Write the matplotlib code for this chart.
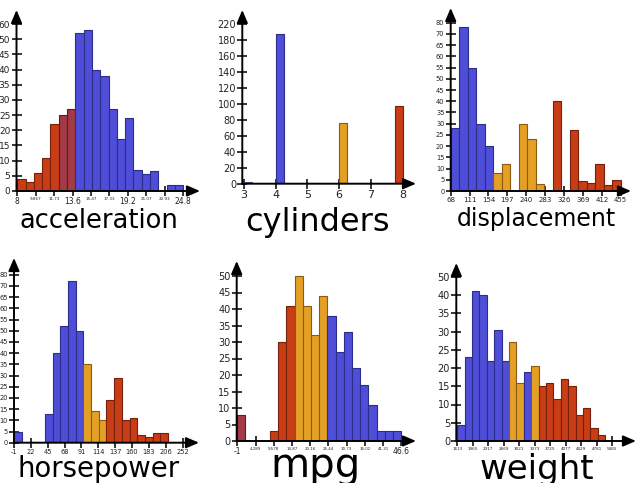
import matplotlib
matplotlib.use("Agg")
import matplotlib.pyplot as plt

W, H = 642, 483

# ---------------- data ----------------
acc_start, acc_bin = 8.0, 0.84
acc_counts = [4, 3, 6, 11, 22, 25, 27, 52, 53, 40, 38, 27, 17, 24, 7, 5.5, 6.5, 0, 2, 2]
acc_cls = "rrrrrmmbbbbbbbbbbbbb"
acc_ticks = [8, 9.867, 11.73, 13.6, 15.47, 17.33, 19.2, 21.07, 22.93, 24.8]
acc_tick_labels = ["8", "9.867", "11.73", "13.6", "15.47", "17.33", "19.2", "21.07", "22.93", "24.8"]
acc_yticks = [0, 5, 10, 15, 20, 25, 30, 35, 40, 45, 50, 55]
acc_ylabels = ["0", "5", "10", "15", "20", "25", "30", "35", "40", "45", "50", "60"]

cyl_start, cyl_bin = 3.0, 0.25
cyl_values = [3, 4, 5, 6, 8]
cyl_counts = [2, 188, 1.5, 76, 98]
cyl_cls = ["l", "b", "y", "o", "r"]
cyl_ticks = [3, 4, 5, 6, 7, 8]
cyl_tick_labels = ["3", "4", "5", "6", "7", "8"]
cyl_yticks = [0, 20, 40, 60, 80, 100, 120, 140, 160, 180, 200]
cyl_ylabels = ["0", "20", "40", "60", "80", "100", "120", "140", "160", "180", "220"]

disp_start, disp_bin = 68.0, 19.35
disp_counts = [28, 73, 55, 30, 20, 8, 12, 0, 30, 23, 3, 0, 40, 0, 27, 4.5, 3.5, 12, 2.5, 5]
disp_cls = "bbbbboooooorrrrrrrrr"
disp_ticks = [68, 111, 154, 197, 240, 283, 326, 369, 412, 455]
disp_tick_labels = ["68", "111", "154", "197", "240", "283", "326", "369", "412", "455"]
disp_yticks = [0, 5, 10, 15, 20, 25, 30, 35, 40, 45, 50, 55, 60, 65, 70, 75]
disp_ylabels = ["0", "5", "10", "15", "20", "25", "30", "35", "40", "45", "50", "55", "60", "65", "70", "80"]

hp_start, hp_bin = -1.0, 10.5
hp_counts = [5, 0, 0, 0, 13, 40, 52, 72, 50, 35, 14, 10, 19, 29, 10, 11, 3.5, 2.5, 4.5, 4.5]
hp_cls = "bbbbbbbbbooorrrrrrrr"
hp_ticks = [-1, 22, 45, 68, 91, 114, 137, 160, 183, 206, 229]
hp_tick_labels = ["-1", "22", "45", "68", "91", "114", "137", "160", "183", "206", "252"]
hp_yticks = [0, 5, 10, 15, 20, 25, 30, 35, 40, 45, 50, 55, 60, 65, 70, 75]
hp_ylabels = ["0", "5", "10", "15", "20", "25", "30", "35", "40", "45", "50", "55", "60", "65", "70", "80"]

mpg_start, mpg_bin = -1.0, 2.38
mpg_counts = [8, 0, 0, 0, 3, 30, 41, 50, 41, 32, 44, 38, 27, 33, 22, 17, 11, 3, 3, 3]
mpg_cls = "mrrrrrroooobbbbbbbbb"
mpg_ticks = [-1, 4.289, 9.578, 14.87, 20.16, 25.44, 30.73, 36.02, 41.31, 46.6]
mpg_tick_labels = ["-1", "4.289", "9.578", "14.87", "20.16", "25.44", "30.73", "36.02", "41.31", "46.6"]
mpg_yticks = [0, 5, 10, 15, 20, 25, 30, 35, 40, 45, 50]
mpg_ylabels = ["0", "5", "10", "15", "20", "25", "30", "35", "40", "45", "50"]

wt_start, wt_bin = 1613.0, 168.0
wt_counts = [4.4, 23, 41, 40, 22, 30.5, 22, 27, 16, 19, 20.5, 15, 16, 11.5, 17, 15, 7, 9, 3.5, 1.6]
wt_cls = "bbbbbbboobor" + "rrrrrrrr"
wt_ticks = [1613, 1965, 2317, 2669, 3021, 3373, 3725, 4077, 4429, 4781, 5133]
wt_tick_labels = ["1613", "1965", "2317", "2669", "3021", "3373", "3725", "4077", "4429", "4781", "5485"]
wt_yticks = [0, 5, 10, 15, 20, 25, 30, 35, 40, 45]
wt_ylabels = ["0", "5", "10", "15", "20", "25", "30", "35", "40", "50"]

# ---------------- style ----------------
FILL = {"b": "#4e4ed8", "o": "#e3a024", "r": "#c83c16", "m": "#a33a46",
        "l": "#8a86e0", "y": "#d8d860"}
EDGE = {"b": "#2c2c8a", "o": "#8c5a10", "r": "#74200a", "m": "#5a1a2a",
        "l": "#5050a0", "y": "#909030"}

fig = plt.figure(figsize=(W / 100, H / 100), dpi=100)
fig.patch.set_facecolor("white")


def make_panel(yaxis_px, ref_px, ref_val, xscale, xaxis_py, yscale, right_px, top_px):
    ax = fig.add_axes([yaxis_px / W, (H - xaxis_py) / H,
                       (right_px - yaxis_px) / W, (xaxis_py - top_px) / H])
    x0 = ref_val - (ref_px - yaxis_px) / xscale
    ax.set_xlim(x0, x0 + (right_px - yaxis_px) / xscale)
    ax.set_ylim(0, (xaxis_py - top_px) / yscale)
    ax.patch.set_alpha(0)
    for s in ax.spines.values():
        s.set_visible(False)
    ap = dict(arrowstyle="-|>,head_length=0.7,head_width=0.3", lw=1.4,
              color="black", shrinkA=0, shrinkB=0, mutation_scale=11)
    ax.annotate("", xy=(1, 0), xytext=(0, 0), xycoords="axes fraction",
                arrowprops=ap, annotation_clip=False, zorder=5)
    ax.annotate("", xy=(0, 1), xytext=(0, 0), xycoords="axes fraction",
                arrowprops=ap, annotation_clip=False, zorder=5)
    ax.tick_params(direction="inout", length=7, width=1.1, pad=1,
                   colors="black", labelcolor="#222222")
    return ax


def draw_hist(ax, start, binw, counts, cls):
    lefts = [start + i * binw for i in range(len(counts))]
    ax.bar(lefts, counts, width=binw, align="edge",
           color=[FILL[c] for c in cls], edgecolor=[EDGE[c] for c in cls],
           linewidth=0.8, zorder=2)


def set_ticks(ax, xt, xl, yt, yl, xfs_short, xfs_long, yfs):
    ax.set_xticks(xt)
    ax.set_xticklabels(xl)
    for t in ax.get_xticklabels():
        t.set_fontsize(xfs_long if len(t.get_text()) > 4 else xfs_short)
    ax.set_yticks(yt)
    ax.set_yticklabels(yl, fontsize=yfs)


# acceleration
ax = make_panel(16.5, 17.3, 8, 9.88, 191, 3.036, 200, 10)
draw_hist(ax, acc_start, acc_bin, acc_counts, acc_cls)
set_ticks(ax, acc_ticks, acc_tick_labels, acc_yticks, acc_ylabels, 5.5, 3.0, 6.5)

# cylinders
ax = make_panel(242.3, 244, 3, 31.7, 183.7, 0.797, 416, 10)
cyl_lefts = [cyl_start + min(int((v - cyl_start) / cyl_bin), 19) * cyl_bin for v in cyl_values]
ax.bar(cyl_lefts, cyl_counts, width=cyl_bin, align="edge",
       color=[FILL[c] for c in cyl_cls], edgecolor=[EDGE[c] for c in cyl_cls],
       linewidth=0.8, zorder=2)
set_ticks(ax, cyl_ticks, cyl_tick_labels, cyl_yticks, cyl_ylabels, 8, 8, 7)

# displacement
ax = make_panel(450.7, 450.7, 68, 0.4393, 191, 2.244, 631, 8)
draw_hist(ax, disp_start, disp_bin, disp_counts, disp_cls)
set_ticks(ax, disp_ticks, disp_tick_labels, disp_yticks, disp_ylabels, 5, 5, 4.8)

# horsepower
ax = make_panel(14, 14, -1, 0.7335, 442.7, 2.24, 199, 258)
draw_hist(ax, hp_start, hp_bin, hp_counts, hp_cls)
set_ticks(ax, hp_ticks, hp_tick_labels, hp_yticks, hp_ylabels, 4.8, 4.8, 4.8)

# mpg
ax = make_panel(236.7, 237.3, -1, 3.445, 441, 3.3, 416, 261)
draw_hist(ax, mpg_start, mpg_bin, mpg_counts, mpg_cls)
set_ticks(ax, mpg_ticks, mpg_tick_labels, mpg_yticks, mpg_ylabels, 5.5, 2.9, 7)

# weight
ax = make_panel(456.3, 457.3, 1613, 0.044, 441, 3.65, 636, 263)
draw_hist(ax, wt_start, wt_bin, wt_counts, wt_cls)
set_ticks(ax, wt_ticks, wt_tick_labels, wt_yticks, wt_ylabels, 3.0, 3.0, 7)

# axis titles
titles = [("acceleration", 99, 227.5, 18.5), ("cylinders", 318, 230.5, 23),
          ("displacement", 536, 226, 17), ("horsepower", 99, 477, 19.8),
          ("mpg", 315, 477, 29), ("weight", 537, 479, 24.5)]
for txt, cx, by, fs in titles:
    fig.text(cx / W, 1 - by / H, txt, ha="center", va="baseline",
             fontsize=fs, color="black", family="DejaVu Sans")

fig.savefig("out.png", dpi=100, facecolor="white")
